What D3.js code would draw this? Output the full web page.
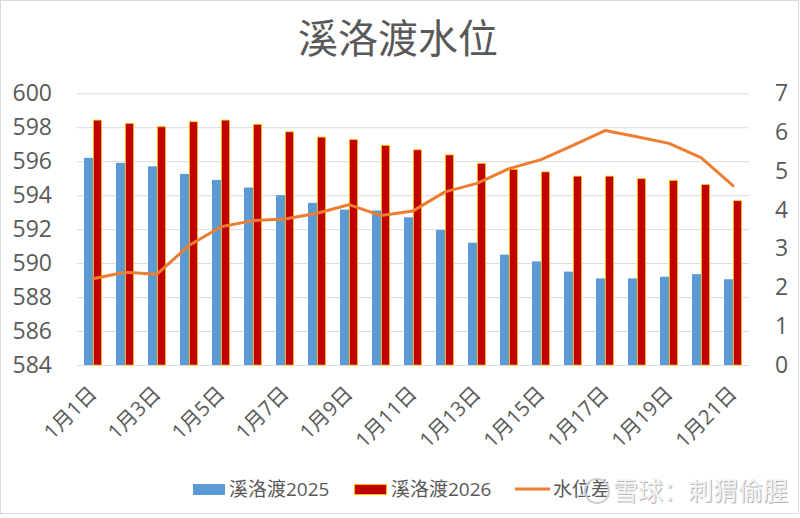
<!DOCTYPE html>
<html>
<head>
<meta charset="utf-8">
<script src="https://cdn.jsdelivr.net/npm/d3@7/dist/d3.min.js"></script>
<style>
html,body{margin:0;padding:0;background:#fff;}
svg{display:block;}
text{font-family:"Open Sans","Noto Sans CJK SC",sans-serif;}
</style>
</head>
<body>
<svg id="chart" width="800" height="518"></svg>
<script>
const categories = ["1月1日","1月2日","1月3日","1月4日","1月5日","1月6日","1月7日","1月8日","1月9日","1月10日","1月11日","1月12日","1月13日","1月14日","1月15日","1月16日","1月17日","1月18日","1月19日","1月20日","1月21日"];
const level2025 = [596.2,595.9,595.7,595.25,594.9,594.45,594.0,593.55,593.15,593.1,592.7,591.95,591.2,590.5,590.1,589.5,589.1,589.1,589.2,589.35,589.05];
const level2026 = [598.45,598.25,598.06,598.35,598.45,598.2,597.76,597.45,597.3,596.96,596.7,596.4,595.9,595.55,595.4,595.15,595.15,595.0,594.9,594.65,593.7];
const levelDiff = [2.22,2.39,2.34,3.08,3.56,3.72,3.76,3.91,4.13,3.85,3.97,4.46,4.68,5.06,5.29,5.66,6.04,5.88,5.71,5.34,4.62];
const leftTicks = [584,586,588,590,592,594,596,598,600];
const rightTicks = [0,1,2,3,4,5,6,7];
const xLabels = ["1月1日","1月3日","1月5日","1月7日","1月9日","1月11日","1月13日","1月15日","1月17日","1月19日","1月21日"];
const seriesNames = ["溪洛渡2025","溪洛渡2026","水位差"];
const titleText = "溪洛渡水位";
const watermarkText = "雪球：刺猬偷腥";

const svg = d3.select("#chart");
const L = 77, R = 749, T = 93.3, B = 365;
const textColor = "#595959";

// chart border
svg.append("rect").attr("x",0.5).attr("y",0.5).attr("width",798).attr("height",513)
  .attr("fill","#fff").attr("stroke","#d9d9d9").attr("stroke-width",1);

const x = d3.scaleBand().domain(categories).range([L,R]).paddingInner(0.4375).paddingOuter(0.21875);
const xSub = d3.scaleBand().domain(["a","b"]).range([0,x.bandwidth()]);
const yL = d3.scaleLinear().domain([584,600]).range([B,T]);
const yR = d3.scaleLinear().domain([0,7]).range([B,T]);

// gridlines
const grid = svg.append("g").attr("transform",`translate(${L},0)`)
  .call(d3.axisLeft(yL).tickValues(leftTicks).tickSize(-(R-L)).tickFormat(""));
grid.select(".domain").remove();
grid.selectAll("line").attr("stroke","#d9d9d9").attr("stroke-width",1);

// left axis
const axL = svg.append("g").attr("transform",`translate(${L},0)`)
  .call(d3.axisLeft(yL).tickValues(leftTicks).tickSize(0).tickPadding(25).tickFormat(d3.format("d")));
axL.select(".domain").remove();
axL.selectAll("text").attr("fill",textColor).style("font-size","23px");

// right axis
const axR = svg.append("g").attr("transform",`translate(${R},0)`)
  .call(d3.axisRight(yR).tickValues(rightTicks).tickSize(0).tickPadding(26).tickFormat(d3.format("d")));
axR.select(".domain").remove();
axR.selectAll("text").attr("fill",textColor).style("font-size","23px");

// bars
const gb = svg.append("g");
gb.selectAll("rect.b25").data(categories).join("rect").attr("class","b25")
  .attr("x",d=>x(d)+xSub("a")).attr("width",xSub.bandwidth())
  .attr("y",(d,i)=>yL(level2025[i])).attr("height",(d,i)=>B-yL(level2025[i]))
  .attr("fill","#5B9BD5");
gb.selectAll("rect.b26").data(categories).join("rect").attr("class","b26")
  .attr("x",d=>x(d)+xSub("b")+0.5).attr("width",xSub.bandwidth()-1)
  .attr("y",(d,i)=>yL(level2026[i])+0.5).attr("height",(d,i)=>B-yL(level2026[i])-0.5)
  .attr("fill","#C00000").attr("stroke","#FFC000").attr("stroke-width",0.8);

// line
const line = d3.line().x((d,i)=>x(categories[i])+x.bandwidth()/2).y(d=>yR(d));
svg.append("path").datum(levelDiff).attr("d",line)
  .attr("fill","none").attr("stroke","#ED7D31").attr("stroke-width",3)
  .attr("stroke-linejoin","round").attr("stroke-linecap","round");

// x labels
const xa = svg.append("g");
xa.selectAll("text").data(xLabels).join("text")
  .attr("transform",d=>`translate(${x(d)+x.bandwidth()/2+5},${395}) rotate(-45)`)
  .attr("text-anchor","end").attr("fill",textColor).style("font-size","20.5px")
  .text(d=>d);

// title
svg.append("text").attr("x",398).attr("y",53).attr("text-anchor","middle")
  .attr("fill",textColor).style("font-size","40px").text(titleText);

// legend
const lg = svg.append("g");
lg.append("rect").attr("x",193).attr("y",484).attr("width",32).attr("height",11).attr("fill","#5B9BD5");
lg.append("text").attr("x",229).attr("y",496).attr("fill",textColor).style("font-size","19px").text(seriesNames[0]);
lg.append("rect").attr("x",354.5).attr("y",484.5).attr("width",32).attr("height",10).attr("fill","#C00000").attr("stroke","#FFC000");
lg.append("text").attr("x",391).attr("y",496).attr("fill",textColor).style("font-size","19px").text(seriesNames[1]);
lg.append("line").attr("x1",515).attr("x2",550).attr("y1",489).attr("y2",489).attr("stroke","#ED7D31").attr("stroke-width",3);
lg.append("text").attr("x",553).attr("y",496).attr("fill",textColor).style("font-size","19px").text(seriesNames[2]);

// watermark
const wm = svg.append("g");
wm.append("circle").attr("cx",597).attr("cy",491).attr("r",12).attr("fill","none").attr("stroke","#cfcfcf").attr("stroke-width",2);
wm.append("text").attr("x",614).attr("y",501).attr("fill","#b5b5b5").style("font-size","25px").text(watermarkText);
wm.append("text").attr("x",613).attr("y",500).attr("fill","#f2f2f2").style("font-size","25px").text(watermarkText);
</script>
</body>
</html>
